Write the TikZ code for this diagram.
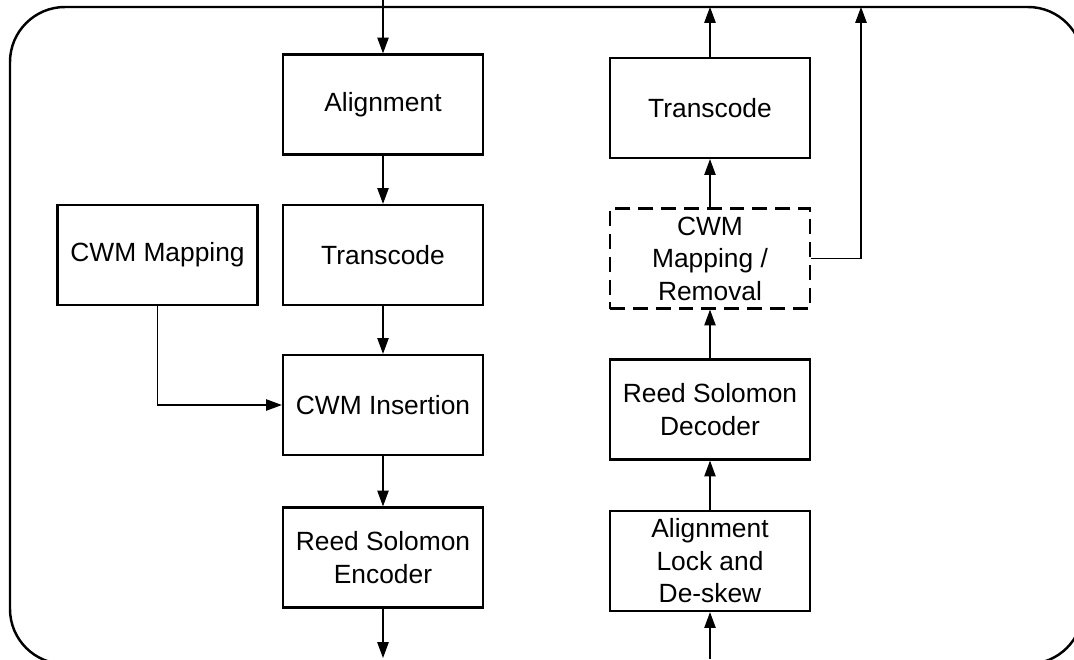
\documentclass[tikz,border=0pt]{standalone}
\usepackage{fontspec}
\setmainfont{Liberation Sans}
\usetikzlibrary{arrows.meta}
\begin{document}
\begin{tikzpicture}[>={Triangle[length=9pt,width=6.5pt]}]
\useasboundingbox (0,0) rectangle (21.48,13.18);

\tikzstyle{blk}=[draw, line width=1.3pt, align=center, font=\fontsize{15}{18.5}\selectfont, minimum width=4cm, minimum height=2cm, inner sep=2pt];
\tikzstyle{dblk}=[blk, dash pattern=on 8.5pt off 4.5pt];
\tikzstyle{e}=[->, line width=0.6pt];

\draw[line width=1.4pt, rounded corners=1.1cm] (0.2,-0.1) rectangle (21.66,13.04);

% transmit side
\node[blk] (align) at (7.66, 11.09) {Alignment};
\node[blk] (trans_l) at (7.66, 8.08) {Transcode};
\node[blk] (map) at (3.15, 8.08) {CWM Mapping};
\node[blk] (ins) at (7.66, 5.08) {CWM Insertion};
\node[blk] (enc) at (7.66, 2.03) {Reed Solomon\\Encoder};
\coordinate (tx_in) at (7.66, 13.18);
\coordinate (tx_out) at (7.66, 0.02);

% receive side
\node[blk] (trans_r) at (14.2, 11.02) {Transcode};
\node[dblk] (rem) at (14.2, 8.01) {CWM\\Mapping /\\Removal};
\node[blk] (dec) at (14.2, 4.99) {Reed Solomon\\Decoder};
\node[blk] (lock) at (14.2, 1.96) {Alignment\\Lock and\\ De-skew};
\coordinate (rx_in) at (14.2, 0);
\coordinate (rx_out) at (14.2, 13.04);
\coordinate (map_out) at (17.22, 13.04);

\draw[e] (tx_in) -- (align);
\draw[e] (align) -- (trans_l);
\draw[e] (trans_l) -- (ins);
\draw[e] (ins) -- (enc);
\draw[e] (enc) -- (tx_out);
\draw[e] (map.south) |- (ins.west);

\draw[e] (rx_in) -- (lock);
\draw[e] (lock) -- (dec);
\draw[e] (dec) -- (rem);
\draw[e] (rem) -- (trans_r);
\draw[e] (trans_r) -- (rx_out);
\draw[e] (rem.east) -| (map_out);
\end{tikzpicture}
\end{document}
